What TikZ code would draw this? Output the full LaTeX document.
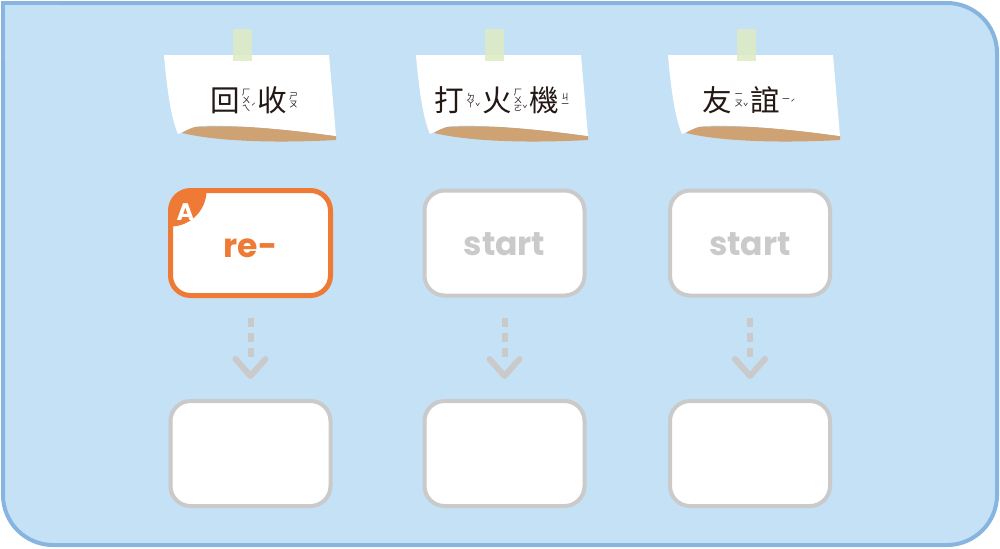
\documentclass[tikz,border=0pt]{standalone}
\usepackage{fontspec}
\usetikzlibrary{calc}
\newfontfamily\cjk{Noto Sans CJK TC}
\newfontfamily\cjkv{Noto Sans CJK TC}[RawFeature=+vert]
\newfontfamily\pop{Poppins}
\definecolor{bgc}{HTML}{C5E1F5}
\definecolor{borderc}{HTML}{88B5E0}
\definecolor{orangec}{HTML}{EE7A35}
\definecolor{grayc}{HTML}{CACACA}
\definecolor{brownc}{HTML}{CFA274}
\definecolor{tapec}{HTML}{DDEBC2}
\definecolor{textc}{HTML}{231815}
\newcommand\zyf{\cjk\fontsize{4.4}{3.9}\selectfont}
\newcommand\zs[1]{\hbox to 4.4pt{\hss#1\hss}}
\newcommand\zsi{\hbox to 4.4pt{\hss{\cjkv\fontsize{4.4}{3.9}\selectfont ㄧ}\hss}}
\newcommand\zy[3]{\kern1.0pt\raisebox{1.8pt}{$\vcenter{\hbox{\zyf\vbox{\baselineskip=3.9pt\lineskiplimit=-5pt\lineskip=0pt #1}}}$}\raisebox{#3}{\zyf #2}\kern0.8pt}
\begin{document}
\begin{tikzpicture}[x=0.5pt,y=-0.5pt,
  boxg/.style={draw=grayc, line width=2pt, fill=white, rounded corners=10pt,
    minimum width=80pt, minimum height=52.5pt, outer sep=0pt, inner sep=0pt},
  boxo/.style={boxg, draw=orangec, line width=2.5pt},
  arr/.style={draw=grayc, line width=3pt},
  lbl/.style={font=\pop\bfseries\fontsize{16.5}{18}\selectfont, anchor=base, inner sep=0pt},
  notetext/.style={font=\cjk\fontsize{14.8}{17}\selectfont, text=textc, inner sep=0pt}]
\useasboundingbox (0,0) rectangle (1000,548);
% outer panel
\draw[line width=2pt, draw=borderc, fill=bgc, rounded corners=25pt] (3,3) rectangle (997,545);
\fill[bgc] (3,3) rectangle (60,60);
\draw[line width=2pt, borderc] (3,60) -- (3,3) -- (60,3);
% notes
\foreach \dx in {0,252,504}{
  \begin{scope}[shift={(\dx,0)}]
    \fill[brownc] (194,127) .. controls (250,124) and (300,131) .. (336,136)
      -- (336,140) .. controls (280,143) and (220,142) .. (182,133)
      .. controls (186,130) and (190,128) .. cycle;
    \fill[white] (164,55) -- (329,55) -- (336,136)
      .. controls (300,131) and (240,124) .. (199,126)
      .. controls (191,127) and (185,131) .. (178,134)
      .. controls (171,118) and (167,90) .. cycle;
    \fill[tapec, opacity=0.85] (233,29) rectangle (252,61);
  \end{scope}
}
\node[notetext] (n1) at (255,100) {回\zy{\zs{ㄏ}\zs{ㄨ}\zs{ㄟ}}{ˊ}{0.6pt}收\zy{\zs{ㄕ}\zs{ㄡ}}{}{0pt}};
\node[notetext] (n2) at (503,100) {打\zy{\zs{ㄉ}\zs{ㄚ}}{ˇ}{0.6pt}火\zy{\zs{ㄏ}\zs{ㄨ}\zs{ㄛ}}{ˇ}{-0.8pt}機\zy{\zs{ㄐ}\zsi}{}{0pt}};
\node[notetext] (n3) at (750,100) {友\zy{\zsi\zs{ㄡ}}{ˇ}{0.6pt}誼\zy{\zsi}{ˊ}{2.4pt}};
% top boxes
\node[boxo] (t1) at (250.5,243) {};
\begin{scope}
  \clip[rounded corners=10pt] (t1.north west) rectangle (t1.south east);
  \fill[orangec] (t1.north west) circle[radius=36];
\end{scope}
\node[text=white, font=\pop\bfseries\fontsize{12}{14}\selectfont, inner sep=0pt] (A) at ($(t1.north west)+(15,22)$) {A};
\node[lbl, text=orangec] (l1) at ($(t1.center)+(0,14)$) {re-};
\node[boxg] (t2) at (504.5,243) {};
\node[lbl, text=grayc] (l2) at ($(t2.center)+(0,12)$) {start};
\node[boxg] (t3) at (750,243) {};
\node[lbl, text=grayc] (l3) at ($(t3.center)+(0,12)$) {start};
% bottom boxes
\node[boxg] (b1) at (250.5,453.5) {};
\node[boxg] (b2) at (504.5,453.5) {};
\node[boxg] (b3) at (750,453.5) {};
% arrows
\foreach \i in {1,2,3}{
  \coordinate (s\i) at ($(t\i.south)+(0,22)$);
  \coordinate (a\i) at ($(b\i.north)+(0,-25)$);
  \coordinate (e\i) at ($(a\i)+(0,-19)$);
  \draw[arr, dash pattern=on 4.5pt off 3pt] (s\i) -- (e\i);
  \draw[arr, line cap=round, line join=round] ($(a\i)+(-15,-17)$) -- (a\i) -- ($(a\i)+(15,-17)$);
}
\end{tikzpicture}
\end{document}
